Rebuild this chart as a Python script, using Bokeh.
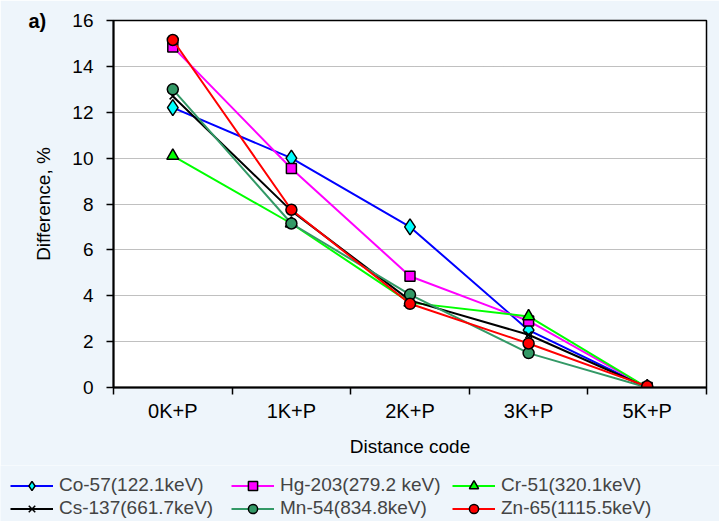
from bokeh.plotting import figure
from bokeh.layouts import column
from bokeh.models import Legend, LegendItem, FixedTicker, Range1d, Title
from bokeh.embed import file_html
from bokeh.resources import INLINE

categories = ["0K+P", "1K+P", "2K+P", "3K+P", "5K+P"]
co57 = [12.2, 10.0, 7.0, 2.5, 0.0]
hg203 = [14.85, 9.55, 4.85, 2.9, 0.0]
cr51 = [10.1, 7.15, 3.7, 3.1, 0.0]
cs137 = [12.7, 7.7, 3.8, 2.3, 0.0]
mn54 = [13.0, 7.15, 4.05, 1.5, 0.0]
zn65 = [15.15, 7.75, 3.65, 1.92, 0.05]
y_ticks = [0, 2, 4, 6, 8, 10, 12, 14, 16]

series = [
    ("Co-57(122.1keV)", co57, "#0000ff", "diamond", "#00ffff", 16),
    ("Hg-203(279.2 keV)", hg203, "#ff00ff", "square", "#ff00ff", 10),
    ("Cr-51(320.1keV)", cr51, "#00ff00", "triangle", "#00ff00", 12),
    ("Cs-137(661.7keV)", cs137, "#000000", "x", "#000000", 9),
    ("Mn-54(834.8keV)", mn54, "#339966", "circle", "#339966", 11),
    ("Zn-65(1115.5keV)", zn65, "#ff0000", "circle", "#ff0000", 11),
]
# legend is laid out row by row in 3 columns: fill order is column-major
legend_order = [0, 3, 1, 4, 2, 5]

FONT = "Liberation Sans"
BG = "#eef5fb"
W = 719
H1 = 465
H2 = 56
xs = [i + 1 for i in range(len(categories))]

p = figure(width=W, height=H1, output_backend="svg", toolbar_location=None,
           x_range=Range1d(0.5, len(categories) + 0.5), y_range=Range1d(0, 16),
           min_border_left=113, min_border_right=13, min_border_top=20, min_border_bottom=H1 - 387,
           background_fill_color="white", border_fill_color=BG,
           outline_line_color="black", outline_line_width=1.5, frame_align=False)

p.add_layout(Title(text="a)", align="left", offset=-85, standoff=-22, vertical_align="bottom",
                   text_font=FONT, text_font_size="20px", text_font_style="bold",
                   text_color="black"), "above")

# axes
xa = p.xaxis[0]
xa.ticker = FixedTicker(ticks=xs, minor_ticks=[x - 0.5 for x in xs] + [xs[-1] + 0.5])
xa.major_label_overrides = {x: c for x, c in zip(xs, categories)}
xa.major_tick_out = 0
xa.major_tick_in = 0
xa.minor_tick_out = 7
xa.minor_tick_in = 0
xa.minor_tick_line_color = "black"
xa.minor_tick_line_width = 1.5
xa.axis_line_width = 2
xa.major_label_standoff = 5
xa.major_label_text_font = FONT
xa.major_label_text_font_size = "20px"
xa.major_label_text_color = "black"
xa.axis_label = "Distance code"
xa.axis_label_text_font = FONT
xa.axis_label_text_font_size = "19px"
xa.axis_label_text_font_style = "normal"
xa.axis_label_text_color = "black"
xa.axis_label_standoff = 11

ya = p.yaxis[0]
ya.ticker = FixedTicker(ticks=y_ticks, minor_ticks=[])
ya.major_tick_out = 7
ya.major_tick_in = 0
ya.major_tick_line_width = 1.5
ya.axis_line_width = 2
ya.major_label_standoff = 13
ya.major_label_text_font = FONT
ya.major_label_text_font_size = "19px"
ya.major_label_text_color = "black"
ya.axis_label = "Difference, %"
ya.axis_label_text_font = FONT
ya.axis_label_text_font_size = "19px"
ya.axis_label_text_font_style = "normal"
ya.axis_label_text_color = "black"
ya.axis_label_standoff = 15

p.xgrid.visible = False
p.ygrid.ticker = FixedTicker(ticks=y_ticks[1:-1])
p.ygrid.grid_line_color = "#808080"
p.ygrid.grid_line_dash = "1 1"
p.ygrid.grid_line_width = 1

# legend strip: its own figure so the legend can span the whole width;
# the y range is kept away from the data so only the legend shows
q = figure(width=W, height=H2, output_backend="svg", toolbar_location=None,
           x_axis_type=None, y_axis_type=None,
           x_range=Range1d(0, W), y_range=Range1d(-200, -200 + H2),
           min_border_left=0, min_border_right=0, min_border_top=0, min_border_bottom=0,
           background_fill_color=BG, border_fill_color=BG, outline_line_color=None,
           frame_align=False)
q.grid.visible = False

items = []
for name, vals, lc, marker, fc, size in series:
    p.line(xs, vals, line_color=lc, line_width=2)
    ql = q.line(xs, vals, line_color=lc, line_width=2)
    if marker == "x":
        p.scatter(xs, vals, marker="x", size=size, line_color="black", line_width=1.5)
        qs = q.scatter(xs, vals, marker="x", size=size, line_color="black", line_width=1.5)
    else:
        p.scatter(xs, vals, marker=marker, size=size, fill_color=fc,
                  line_color="black", line_width=1.5)
        qs = q.scatter(xs, vals, marker=marker, size=size, fill_color=fc,
                       line_color="black", line_width=1.5)
    items.append(LegendItem(label=name, renderers=[ql, qs]))

legend = Legend(items=[items[i] for i in legend_order], ncols=3, location=(10, 1.5),
                glyph_width=43, glyph_height=23, label_height=23, label_width=172,
                label_standoff=6, spacing=-4, padding=0, margin=0,
                label_text_font=FONT, label_text_font_size="19px",
                background_fill_alpha=0, border_line_alpha=0)
q.add_layout(legend, "center")

layout = column(p, q, spacing=0)
open("out.html", "w").write(file_html(layout, INLINE))
